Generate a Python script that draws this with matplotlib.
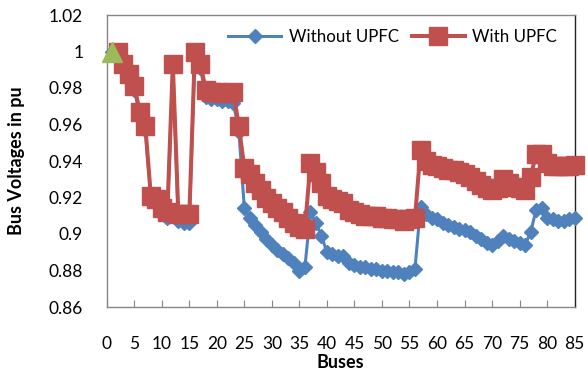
import matplotlib
matplotlib.use("Agg")
import matplotlib.pyplot as plt

buses = list(range(1, 86))

without_upfc = [
    1.000, 0.997, 0.991, 0.985, 0.979, 0.965, 0.957, 0.920, 0.917, 0.912,
    0.909, 0.992, 0.907, 0.906, 0.906, 0.998, 0.991, 0.975, 0.974, 0.974,
    0.973, 0.973, 0.972, 0.956, 0.914, 0.909, 0.905, 0.901, 0.897, 0.894,
    0.891, 0.889, 0.887, 0.884, 0.880, 0.882, 0.912, 0.906, 0.899, 0.890,
    0.889, 0.888, 0.888, 0.884, 0.883, 0.882, 0.882, 0.881, 0.881, 0.880,
    0.880, 0.879, 0.879, 0.878, 0.879, 0.881, 0.915, 0.911, 0.909, 0.908,
    0.906, 0.905, 0.904, 0.903, 0.902, 0.901, 0.899, 0.897, 0.895, 0.894,
    0.896, 0.899, 0.897, 0.896, 0.895, 0.894, 0.901, 0.913, 0.914, 0.909,
    0.908, 0.907, 0.907, 0.908, 0.909,
]

with_upfc = [
    1.000, 1.000, 0.993, 0.9875, 0.981, 0.967, 0.959, 0.921, 0.919, 0.914,
    0.912, 0.993, 0.911, 0.911, 0.911, 1.000, 0.993, 0.979, 0.978, 0.978,
    0.977, 0.977, 0.978, 0.959, 0.936, 0.933, 0.928, 0.924, 0.920, 0.917,
    0.914, 0.912, 0.909, 0.906, 0.904, 0.903, 0.939, 0.934, 0.928, 0.921,
    0.919, 0.918, 0.917, 0.913, 0.912, 0.911, 0.910, 0.910, 0.910, 0.909,
    0.909, 0.908, 0.908, 0.907, 0.908, 0.909, 0.946, 0.940, 0.938, 0.937,
    0.936, 0.935, 0.935, 0.934, 0.933, 0.931, 0.929, 0.927, 0.925, 0.924,
    0.925, 0.930, 0.928, 0.926, 0.925, 0.924, 0.931, 0.944, 0.944, 0.939,
    0.937, 0.937, 0.937, 0.937, 0.938,
]

slack_bus = [1]
slack_voltage = [1.000]

xticks = list(range(0, 90, 5))
yticks = [0.86, 0.88, 0.90, 0.92, 0.94, 0.96, 0.98, 1.00, 1.02]
ytick_labels = ["0.86", "0.88", "0.9", "0.92", "0.94", "0.96", "0.98", "1", "1.02"]

plt.rcParams['font.family'] = ['Lato', 'DejaVu Sans']

W, H = 588, 372
fig = plt.figure(figsize=(W / 100, H / 100), dpi=100)
left, right, top, bottom = 106.8, 574.6, 15, 307
ax = fig.add_axes([left / W, 1 - bottom / H, (right - left) / W, (bottom - top) / H])

blue = '#4F81BD'
red = '#C0504D'
green = '#9BBB59'

ax.plot(buses, without_upfc, color=blue, lw=2.2, marker='D', ms=7,
        mec=blue, mfc=blue, label='Without UPFC', zorder=3, clip_on=False)
ax.plot(buses, with_upfc, color=red, lw=2.9, marker='s', ms=12.5,
        mec=red, mfc=red, markevery=list(range(1, 85)), label='With UPFC',
        zorder=4, clip_on=False)
ax.plot(slack_bus, slack_voltage, linestyle='none', marker='^', ms=14,
        mfc=green, mec=green, zorder=5, clip_on=False)

ax.set_xlim(0, 85)
ax.set_ylim(0.86, 1.02)
ax.set_xticks(xticks)
ax.set_xticklabels([str(t) for t in xticks])
ax.set_yticks(yticks)
ax.set_yticklabels(ytick_labels)
ax.tick_params(axis='x', direction='in', length=5, width=0.8, color='#868686',
               pad=21, labelsize=12.5)
ax.tick_params(axis='y', length=0, pad=17, labelsize=12.5)

for s in ['left', 'bottom', 'top']:
    ax.spines[s].set_color('#868686')
    ax.spines[s].set_linewidth(1.0)
ax.spines['right'].set_color('#222222')
ax.spines['right'].set_linewidth(1.0)

fig.text(17 / W, 1 - 161 / H, 'Bus Voltages in pu', rotation=90, ha='center',
         va='center', fontsize=13, fontweight='bold')
fig.text(340.7 / W, 1 - 362 / H, 'Buses', ha='center', va='center',
         fontsize=13, fontweight='bold')

leg = ax.legend(loc='center right', bbox_to_anchor=(557 / W, 1 - 37 / H),
                bbox_transform=fig.transFigure, ncol=2, frameon=False,
                fontsize=12.2, handlelength=3.1, handletextpad=0.45,
                columnspacing=0.8, borderpad=0, borderaxespad=0)

fig.savefig('out.png', dpi=100)
